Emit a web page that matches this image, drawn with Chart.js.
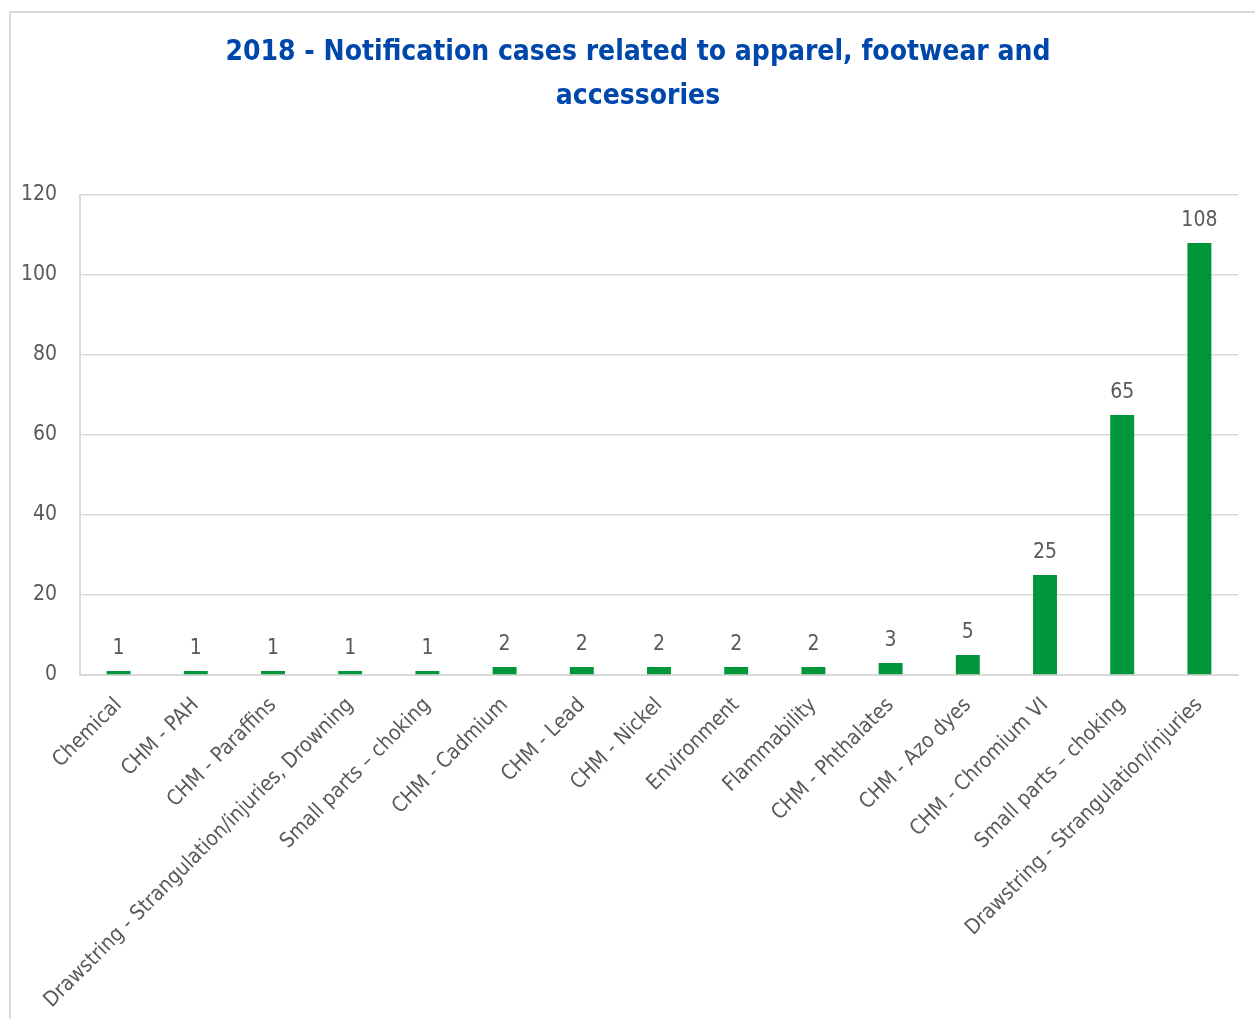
<!DOCTYPE html>
<html>
<head>
<meta charset="utf-8">
<script src="https://cdn.jsdelivr.net/npm/chart.js@4.4.1/dist/chart.umd.min.js"></script>
<style>
    html, body { margin: 0; padding: 0; background: #fff; }
    #wrap { position: relative; width: 1255px; height: 1019px; overflow: hidden; }
    #frame { position: absolute; left: 9px; top: 11px; width: 1300px; height: 1100px; border: 2px solid #d9d9d9; box-sizing: border-box; }
    canvas { position: absolute; left: 0; top: 0; }
</style>
</head>
<body>
<div id="wrap">
    <div id="frame"></div>
    <canvas id="chart" width="1255" height="1019"></canvas>
</div>
<script>
// 차트 데이터
const categories = [
    'Chemical',
    'CHM - PAH',
    'CHM - Paraffins',
    'Drawstring - Strangulation/injuries, Drowning',
    'Small parts \u2013 choking',
    'CHM - Cadmium',
    'CHM - Lead',
    'CHM - Nickel',
    'Environment',
    'Flammability',
    'CHM - Phthalates',
    'CHM - Azo dyes',
    'CHM - Chromium VI',
    'Small parts \u2013 choking',
    'Drawstring - Strangulation/injuries'
];
const cases = [1, 1, 1, 1, 1, 2, 2, 2, 2, 2, 3, 5, 25, 65, 108];
const titleLines = ['2018 - Notification cases related to apparel, footwear and', 'accessories'];

const FONT = "'DejaVu Sans Condensed', 'Liberation Sans', sans-serif";
const TEXT_COLOR = '#595959';
const GRID_COLOR = '#d9d9d9';

// 막대 위에 값 표시
const valueLabels = {
    id: 'valueLabels',
    afterDatasetsDraw(chart) {
        const ctx = chart.ctx;
        ctx.save();
        ctx.font = '21px ' + FONT;
        ctx.fillStyle = TEXT_COLOR;
        ctx.textAlign = 'center';
        ctx.textBaseline = 'bottom';
        chart.getDatasetMeta(0).data.forEach((bar, i) => {
            ctx.fillText(String(cases[i]), bar.x, bar.y - 12);
        });
        ctx.restore();
    }
};

// 제목을 조금 오른쪽으로 (원본처럼 가운데 맞춤 위치 조정)
const titleShift = {
    id: 'titleShift',
    afterLayout(chart) {
        if (chart.titleBlock) {
            chart.titleBlock.left = 38;
        }
    }
};

new Chart(document.getElementById('chart').getContext('2d'), {
    type: 'bar',
    data: {
        labels: categories,
        datasets: [{
            data: cases,
            backgroundColor: '#00963a',
            borderWidth: 0,
            categoryPercentage: 1,
            barPercentage: 0.31
        }]
    },
    options: {
        responsive: false,
        animation: false,
        layout: { padding: { left: 0, right: 17, top: 0, bottom: 0 } },
        scales: {
            x: {
                grid: { display: false },
                border: { display: true, color: GRID_COLOR, width: 2 },
                ticks: {
                    color: TEXT_COLOR,
                    font: { family: FONT, size: 21 },
                    minRotation: 45,
                    maxRotation: 45,
                    autoSkip: false,
                    padding: 10
                },
                afterFit(scale) { scale.height = 344; }
            },
            y: {
                min: 0,
                max: 120,
                ticks: {
                    stepSize: 20,
                    color: TEXT_COLOR,
                    font: { family: FONT, size: 21 },
                    padding: 23
                },
                grid: { color: GRID_COLOR, lineWidth: 1.5, drawTicks: false },
                border: { display: true, color: GRID_COLOR, width: 2 },
                afterFit(scale) { scale.width = 80; }
            }
        },
        plugins: {
            legend: { display: false },
            tooltip: { enabled: false },
            title: {
                display: true,
                text: titleLines,
                color: '#0047ab',
                font: { family: FONT, size: 28, weight: 'bold', lineHeight: 1.57 },
                padding: { top: 31, bottom: 76 }
            }
        }
    },
    plugins: [valueLabels, titleShift]
});
</script>
</body>
</html>
